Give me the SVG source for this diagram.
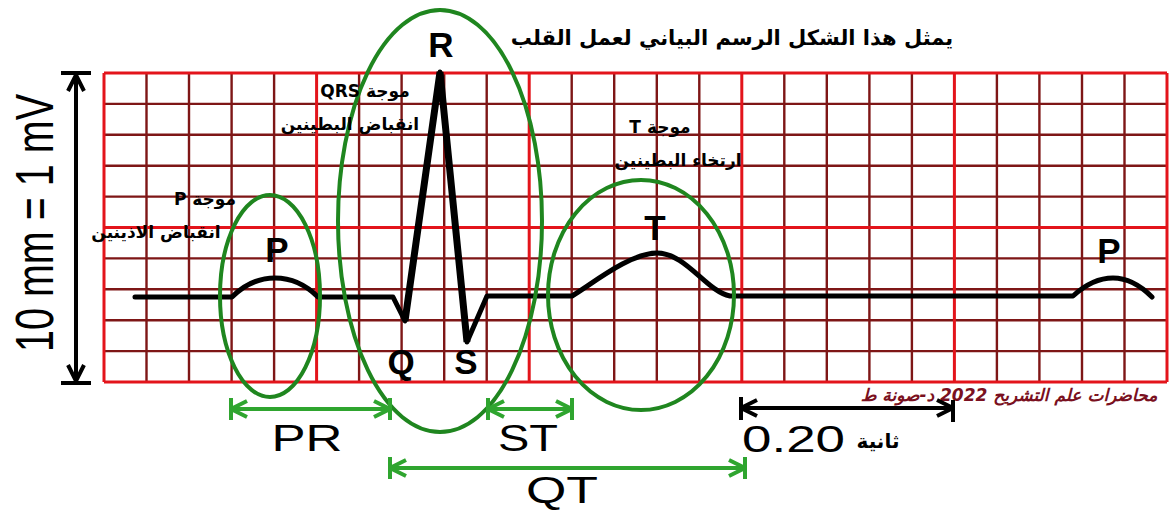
<svg xmlns="http://www.w3.org/2000/svg" width="1176" height="510" viewBox="0 0 1176 510">
<style>
.thin{stroke:#7e1616;stroke-width:2.4;fill:none}
.thick{stroke:#e3141b;stroke-width:3;fill:none}
.trace{stroke:#000;stroke-width:5;fill:none;stroke-linejoin:round;stroke-linecap:round}
.ell{fill:none;stroke:#1f861f;stroke-width:4}
.garrow{stroke:#2fa52f;stroke-width:4;fill:none}
.barrow{stroke:#000;stroke-width:4;fill:none}
.big{font-family:"Liberation Sans",Arial,sans-serif;font-weight:bold;font-size:35px;fill:#000;text-anchor:middle}
.lab{font-family:"Liberation Sans",Arial,sans-serif;font-size:37px;fill:#000;text-anchor:middle}
.ar{font-family:"DejaVu Sans","Noto Sans",sans-serif;font-weight:bold;font-size:17px;fill:#000;text-anchor:middle}
</style>
<defs>
<marker id="chevG" viewBox="0 0 20 20" refX="18" refY="10" markerWidth="20" markerHeight="20" markerUnits="userSpaceOnUse" orient="auto-start-reverse"><path d="M2,2 L18,10 L2,18" fill="none" stroke="#2fa52f" stroke-width="4"/></marker>
<marker id="chevB" viewBox="0 0 20 20" refX="18" refY="10" markerWidth="20" markerHeight="20" markerUnits="userSpaceOnUse" orient="auto-start-reverse"><path d="M2,2 L18,10 L2,18" fill="none" stroke="#000" stroke-width="4"/></marker>
</defs>
<rect width="1176" height="510" fill="#fff"/>
<g id="grid">
<path class="thin" d="M146.5,73V382M189,73V382M231.6,73V382M274.1,73V382M359.1,73V382M401.6,73V382M444.2,73V382M486.7,73V382M571.7,73V382M614.2,73V382M656.8,73V382M699.3,73V382M784.3,73V382M826.8,73V382M869.4,73V382M911.9,73V382M996.9,73V382M1039.4,73V382M1082,73V382M1124.5,73V382M104,103.9H1167M104,134.8H1167M104,165.7H1167M104,196.6H1167M104,258.4H1167M104,289.3H1167M104,320.2H1167M104,351.1H1167"/>
<path class="thick" d="M104,73V382M316.6,73V382M529.2,73V382M741.8,73V382M954.4,73V382M1167,73V382M104,73H1167M104,227.5H1167M104,382H1167"/>
</g>
<g id="ecg-trace">
<path class="trace" d="M135,297 L232,297 C245,284 258,278 275,278 C294,278 308,287 318,297 L393,297 L405,321 L440,72 L467,342 L487,296 L572,296 C592,284 630,253 657,253 C686,253 706,291 730,296 L1073,296 C1085,285 1098,278 1113,278 C1130,278 1142,287 1152,297"/>
<path d="M405,321 L440,72 L467,342" fill="none" stroke="#000" stroke-width="7" stroke-linejoin="miter"/>
</g>
<g id="p-wave">
<ellipse class="ell" cx="270" cy="296" rx="50" ry="101"/>
<text class="big" x="277" y="262">P</text>
<text class="ar" x="205" y="205" direction="rtl">موجة P</text>
<text class="ar" x="156" y="238" direction="rtl">انقباض الاذينين</text>
</g>
<g id="qrs-complex">
<ellipse class="ell" cx="440" cy="221" rx="102" ry="211"/>
<text class="big" x="441" y="57">R</text>
<text class="big" x="401" y="374">Q</text>
<text class="big" x="466" y="374">S</text>
<text class="ar" x="365" y="97" direction="rtl">موجة QRS</text>
<text class="ar" x="350" y="130" direction="rtl">انقباض البطينين</text>
</g>
<g id="t-wave">
<ellipse class="ell" cx="641" cy="295" rx="93" ry="115"/>
<text class="big" x="655" y="240">T</text>
<text class="ar" x="660" y="133" direction="rtl">موجة T</text>
<text class="ar" x="678" y="166" direction="rtl">ارتخاء البطينين</text>
</g>
<g id="p-wave-2">
<text class="big" x="1109" y="263">P</text>
</g>
<g id="title">
<text class="ar" x="732" y="45" style="font-size:21px" direction="rtl">يمثل هذا الشكل الرسم البياني لعمل القلب</text>
</g>
<g id="scale-label">
<text transform="translate(53,223) rotate(-90)" x="0" y="0" style="font-family:'Liberation Sans',Arial,sans-serif;font-size:54px;text-anchor:middle" textLength="258" lengthAdjust="spacingAndGlyphs">10 mm = 1 mV</text>
</g>
<g id="interval-labels">
<text class="lab" x="307" y="451" textLength="71" lengthAdjust="spacingAndGlyphs">PR</text>
<text class="lab" x="528" y="451" textLength="60" lengthAdjust="spacingAndGlyphs">ST</text>
<text class="lab" x="562" y="503" textLength="72" lengthAdjust="spacingAndGlyphs">QT</text>
<text class="lab" x="742" y="452" style="text-anchor:start" textLength="103" lengthAdjust="spacingAndGlyphs">0.20</text>
<text class="ar" x="878" y="448" style="font-size:20px" direction="rtl">ثانية</text>
</g>
<g id="watermark">
<text x="1009" y="401" direction="rtl" style="font-family:'DejaVu Sans',sans-serif;font-weight:bold;font-style:italic;font-size:17px;fill:#7a1020;text-anchor:middle">محاضرات علم التشريح 2022 د-صونة ط</text>
</g>
<g id="connectors">
<path class="barrow" d="M76,75V381" marker-start="url(#chevB)" marker-end="url(#chevB)"/>
<path class="barrow" d="M61,73H91M61,383H91"/>
<path class="garrow" d="M231,409H390" marker-start="url(#chevG)" marker-end="url(#chevG)"/>
<path class="garrow" d="M231,398V420M390,398V420"/>
<path class="garrow" d="M488,409H572" marker-start="url(#chevG)" marker-end="url(#chevG)"/>
<path class="garrow" d="M488,398V420M572,398V420"/>
<path class="garrow" d="M390,468H745" marker-start="url(#chevG)" marker-end="url(#chevG)"/>
<path class="garrow" d="M390,457V479M745,457V479"/>
<path class="barrow" d="M741,408H953" marker-start="url(#chevB)" marker-end="url(#chevB)"/>
<path class="barrow" d="M741,397V420M953,400V422"/>
</g>
</svg>
